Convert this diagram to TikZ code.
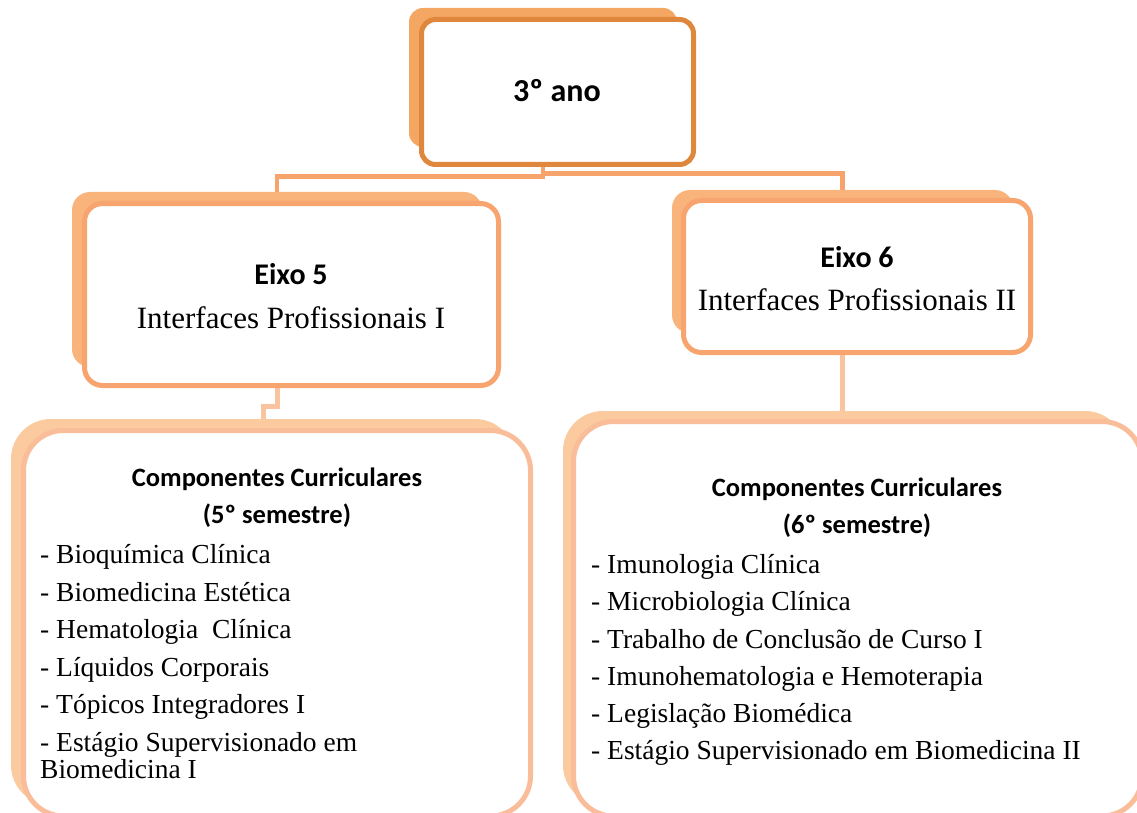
\documentclass[tikz,border=0pt]{standalone}
\usepackage{fontspec}
\setmainfont{Liberation Serif}
\newfontfamily\calibri{Carlito}

\definecolor{topbackc}{HTML}{F4A763}
\definecolor{toplinec}{HTML}{E0873E}
\definecolor{midbackc}{HTML}{F9B47C}
\definecolor{midlinec}{HTML}{F7A46E}
\definecolor{lowbackc}{HTML}{FBCA9F}
\definecolor{lowlinec}{HTML}{F9BD99}
\definecolor{linkac}{HTML}{F6A36C}
\definecolor{linkbc}{HTML}{F9C3A0}

\begin{document}
\begin{tikzpicture}[x=1pt,y=-1pt,
  backbox/.style={fill=#1,draw=none,inner sep=0pt,outer sep=0pt},
  frontbox/.style={draw=#1,line width=5pt,fill=white,inner sep=0pt,outer sep=0pt},
  linka/.style={draw=linkac,line width=4.5pt},
  linkb/.style={draw=linkbc,line width=5pt},
  headbig/.style={inner sep=0pt,anchor=base,font={\calibri\bfseries\fontsize{32}{36}\selectfont}},
  headmid/.style={inner sep=0pt,anchor=base,font={\calibri\bfseries\fontsize{30}{34}\selectfont}},
  subtitle/.style={inner sep=0pt,anchor=base,font={\fontsize{31}{36}\selectfont}},
  headsmall/.style={inner sep=0pt,anchor=base,font={\calibri\bfseries\fontsize{26.5}{30}\selectfont}},
  item/.style={inner sep=0pt,anchor=base west,font={\fontsize{27.5}{32}\selectfont}}]

\useasboundingbox (0,0) rectangle (1137,813);
\clip (0,0) rectangle (1137,813);

% shadow boxes behind each card
\node[backbox=topbackc,rounded corners=14pt,minimum width=268pt,minimum height=139pt] (topback) at (543,77.5) {};
\node[backbox=midbackc,rounded corners=18pt,minimum width=410pt,minimum height=175pt] (e5back) at (277,279.5) {};
\node[backbox=midbackc,rounded corners=18pt,minimum width=341pt,minimum height=143pt] (e6back) at (842.5,261.5) {};
\node[backbox=lowbackc,rounded corners=40pt,minimum width=504pt,minimum height=386pt] (blback) at (263,612) {};
\node[backbox=lowbackc,rounded corners=40pt,minimum width=562pt,minimum height=394pt] (brback) at (844,608) {};

% connectors
\draw[linka] (topback.center) -- ++(0,99) -| (e5back.north);
\draw[linka] (topback.center) -- ++(0,96) -| (e6back.north);
\draw[linkb] (e5back.center) -- ++(0,126.5) -| (blback.north);
\draw[linkb] (e6back.center) -- (e6back.center |- brback.north);

% cards
\node[frontbox=toplinec,rounded corners=14pt,minimum width=272pt,minimum height=145pt] (top) at (557.5,92) {};
\node[frontbox=midlinec,rounded corners=18pt,minimum width=414pt,minimum height=182pt] (e5) at (291.5,294.5) {};
\node[frontbox=midlinec,rounded corners=18pt,minimum width=347pt,minimum height=152pt] (e6) at (857,276.5) {};
\node[frontbox=lowlinec,rounded corners=40pt,minimum width=507pt,minimum height=385.5pt] (bl) at (277,623.25) {};
\node[frontbox=lowlinec,rounded corners=40pt,minimum width=568.5pt,minimum height=394.5pt] (br) at (857.75,618.75) {};

% titles
\node[headbig] (t3) at (557,102) {3º ano};
\node[headmid] (t5a) at (291,284) {Eixo 5};
\node[subtitle] (t5b) at (291,328) {Interfaces Profissionais I};
\node[headmid] (t6a) at (857,267) {Eixo 6};
\node[subtitle] (t6b) at (857,310) {Interfaces Profissionais II};

% fifth semester
\node[headsmall] (c5a) at (277,486) {Componentes Curriculares};
\node[headsmall] (c5b) at (277,523) {(5º semestre)};
\node[item] (l1) at (40,563) {- Bioquímica Clínica};
\node[item] (l2) at (40,601) {- Biomedicina Estética};
\node[item] (l3) at (40,638) {- Hematologia~ Clínica};
\node[item] (l4) at (40,676) {- Líquidos Corporais};
\node[item] (l5) at (40,713) {- Tópicos Integradores I};
\node[item] (l6) at (40,751) {- Estágio Supervisionado em};
\node[item] (l7) at (40,778) {Biomedicina I};

% sixth semester
\node[headsmall] (c6a) at (857,496) {Componentes Curriculares};
\node[headsmall] (c6b) at (857,533) {(6º semestre)};
\node[item] (r1) at (591,573) {- Imunologia Clínica};
\node[item] (r2) at (591,610) {- Microbiologia Clínica};
\node[item] (r3) at (591,648) {- Trabalho de Conclusão de Curso I};
\node[item] (r4) at (591,685) {- Imunohematologia e Hemoterapia};
\node[item] (r5) at (591,722) {- Legislação Biomédica};
\node[item] (r6) at (591,759) {- Estágio Supervisionado em Biomedicina II};
\end{tikzpicture}
\end{document}
